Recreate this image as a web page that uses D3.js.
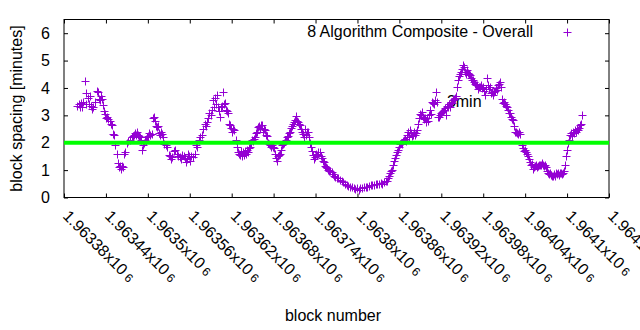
<!DOCTYPE html>
<html>
<head>
<meta charset="utf-8">
<script src="https://cdn.jsdelivr.net/npm/d3@7"></script>
<style>
  html, body { margin: 0; padding: 0; background: #fff; }
  svg { display: block; font-family: "Liberation Sans", Arial, sans-serif; }
</style>
</head>
<body>
<svg id="chart" width="640" height="330"></svg>
<script>
// ---- data ----
const seriesName = "8 Algorithm Composite - Overall";
const blockStart = 1963380;
const blockOffset = [19,21,23,24,26,27,30,31,32,34,36,37,39,40,42,44,47,49,50,52,53,54,56,57,59,60,62,63,66,67,69,70,72,73,76,77,79,80,82,83,84,86,87,90,92,94,97,99,100,102,103,104,106,107,109,110,112,113,114,116,117,119,120,122,123,126,127,129,130,132,133,135,136,137,139,140,142,143,146,147,150,152,153,155,157,159,162,163,166,167,169,172,173,175,176,177,179,180,182,185,187,189,190,193,195,197,199,202,203,205,206,208,210,212,213,215,216,218,219,220,222,223,225,226,228,229,230,232,233,235,236,238,239,240,242,243,246,248,249,250,252,253,255,256,258,259,260,262,263,265,266,268,269,270,272,273,275,276,278,279,281,282,283,285,286,288,289,291,292,293,295,296,298,299,301,302,303,305,306,308,309,311,312,313,315,316,318,319,321,322,323,325,326,328,329,331,332,333,335,336,338,339,341,342,343,345,346,348,349,351,352,353,355,356,358,359,361,362,364,366,368,369,371,372,374,375,376,378,379,381,384,385,386,388,391,392,395,398,399,402,405,406,409,412,415,416,419,422,424,426,429,432,434,437,439,441,444,447,448,451,454,455,458,461,462,464,465,467,468,469,471,472,474,475,477,478,479,481,482,484,485,487,488,489,491,492,494,495,497,498,499,501,502,504,505,507,508,510,511,512,514,515,517,518,520,521,522,524,525,527,528,530,531,532,534,535,537,538,540,541,542,544,545,547,548,550,551,552,554,555,557,558,560,561,562,564,565,567,568,570,571,572,574,575,577,578,580,581,582,584,585,587,588,590,591,592,594,595,597,598,600,601,603,604,605,607,608,610,611,613,614,615,617,618,620,621,623,624,625,627,628,630,631,633,634,635,637,638,640,641,643,644,645,647,648,650,651,653,656,657,658,660,661,663,664,666,667,668,670,671,673,674,676,677,678,680,681,683,684,686,687,688,690,691,693,694,696,697,698,700,701,703,704,706,707,708,710,711,713,714,716,717,718,720,721,723,724,726,727,728,730,731,733,734,736,737,738,740,741];
const spacing = [3.35,3.4,3.3,3.45,3.3,3.5,4.25,3.8,3.4,3.65,3.4,3.7,3.35,3.25,3.3,3.5,3.9,3.85,3.6,3.55,3.7,3.6,3.37,3.15,3.05,2.9,2.93,2.85,2.8,2.7,2.65,2.33,2.3,1.9,1.6,1.25,1.1,1.15,1.05,1.15,1.1,1.6,1.65,2.0,2.08,2.1,2.2,2.25,2.3,2.35,2.3,2.4,2.3,2.25,2.2,2.1,1.75,1.9,2.0,2.1,2.05,2.2,2.25,2.35,2.3,2.33,2.9,2.93,2.8,2.6,2.57,2.6,2.35,2.3,2.4,2.33,2.2,1.95,1.9,1.85,1.55,1.5,1.4,1.47,1.7,1.75,1.6,1.5,1.47,1.4,1.55,1.5,1.43,1.3,1.4,1.6,1.5,1.35,1.5,1.47,1.6,1.9,1.85,2.1,2.2,2.3,2.5,2.7,2.6,2.75,2.9,3.07,3.0,3.2,3.55,3.3,3.65,3.4,3.75,3.3,3.15,2.93,3.3,3.35,3.85,3.4,3.45,3.2,3.15,3.1,2.7,2.65,2.55,2.4,2.5,2.45,2.1,1.85,1.65,1.6,1.55,1.7,1.5,1.65,1.55,1.7,1.6,1.75,1.65,1.8,1.85,2.0,2.1,2.05,2.15,2.2,2.35,2.4,2.57,2.6,2.55,2.65,2.63,2.4,2.5,2.45,2.3,2.25,2.0,1.97,1.9,1.85,1.9,1.85,1.8,1.6,1.45,1.35,1.5,1.55,1.6,1.75,1.9,1.97,2.0,2.05,2.1,2.2,2.25,2.35,2.4,2.55,2.6,2.7,2.75,2.82,2.99,2.8,2.75,2.7,2.65,2.5,2.4,2.33,2.2,2.5,2.3,2.4,2.38,2.2,2.0,1.85,1.7,1.55,1.4,1.47,1.6,1.55,1.65,1.65,1.5,1.45,1.35,1.3,1.15,1.1,1.06,1.0,0.98,0.95,0.92,0.85,0.8,0.75,0.73,0.7,0.65,0.62,0.55,0.5,0.44,0.42,0.38,0.37,0.33,0.3,0.33,0.28,0.35,0.33,0.38,0.4,0.37,0.42,0.45,0.44,0.46,0.5,0.48,0.5,0.52,0.51,0.55,0.6,0.62,0.7,0.8,0.9,0.95,1.0,1.2,1.35,1.45,1.55,1.65,1.75,1.85,1.95,2.0,1.97,2.05,2.1,2.15,2.08,2.3,2.4,2.2,2.45,2.35,2.25,2.3,2.4,2.27,2.35,2.45,2.7,2.9,3.05,3.0,3.11,2.95,2.85,2.9,2.75,2.89,2.8,3.0,3.18,3.05,3.5,3.45,3.4,3.55,3.84,3.5,2.93,2.95,3.0,3.1,3.11,3.15,3.2,3.26,3.0,3.35,3.3,3.4,3.3,3.5,3.45,3.55,3.6,3.65,3.7,4.02,4.3,4.45,4.5,4.6,4.7,4.83,4.75,4.6,4.5,4.65,4.55,4.5,4.46,4.35,4.3,4.28,4.2,4.15,4.1,4.1,3.95,4.05,4.02,4.1,4.0,4.02,3.9,3.75,3.95,4.35,4.1,3.95,4.02,3.8,3.85,3.73,3.85,3.9,4.0,3.91,4.1,4.15,4.2,4.05,3.6,3.44,3.5,3.4,3.35,3.3,3.2,3.1,3.07,2.95,2.85,2.82,2.6,2.4,2.38,2.35,2.33,2.38,2.33,1.9,1.79,1.7,1.75,1.65,1.6,1.5,1.4,1.3,1.2,1.24,1.05,1.1,1.15,1.2,1.1,1.15,1.2,1.17,1.2,1.25,1.2,1.15,1.17,1.1,0.95,0.9,0.85,0.88,0.82,0.8,0.78,0.85,0.8,0.9,0.85,0.88,0.82,0.88,0.9,0.85,0.88,0.95,1.2,1.5,1.75,2.0,2.1,2.3,2.35,2.25,2.4,2.35,2.45,2.4,2.5,2.45,2.55,2.63,2.7,3.0];
const targetSpacing = 2;
const xTickValues = [1963380,1963440,1963500,1963560,1963620,1963680,1963740,1963800,1963860,1963920,1963980,1964040,1964100,1964160];
const xTickMantissa = ["1.96338","1.96344","1.9635","1.96356","1.96362","1.96368","1.96374","1.9638","1.96386","1.96392","1.96398","1.96404","1.9641","1.96416"];
const yTickValues = [0,1,2,3,4,5,6];
const xTitle = "block number";
const yTitle = "block spacing [minutes]";
const noteText = "3min";
const noteBlock = 1963928;
const noteValue = 3.3;

// ---- layout ----
const svg = d3.select("#chart");
const L = 64, R = 609, T = 19.5, B = 197.5;
const x = d3.scaleLinear().domain([1963380, 1964160]).range([L, R]);
const y = d3.scaleLinear().domain([0, 6.5]).range([B, T]);
const purple = "#9400d3";
const fontSize = 16;

svg.append("defs").append("clipPath").attr("id", "clip")
  .append("rect").attr("x", L).attr("y", T).attr("width", R - L).attr("height", B - T);

const points = blockOffset.map((o, i) => ({ b: blockStart + o, v: spacing[i] }));

// axes (ticks pointing inward, mirrored)
const gB = svg.append("g").attr("transform", `translate(0,${B})`)
  .call(d3.axisBottom(x).tickValues(xTickValues).tickSizeInner(-4).tickSizeOuter(0).tickFormat(""));
const gT = svg.append("g").attr("transform", `translate(0,${T})`)
  .call(d3.axisTop(x).tickValues(xTickValues).tickSizeInner(-4).tickSizeOuter(0).tickFormat(""));
const gL = svg.append("g").attr("transform", `translate(${L},0)`)
  .call(d3.axisLeft(y).tickValues(yTickValues).tickSizeInner(-4).tickSizeOuter(0)
    .tickPadding(14).tickFormat(d3.format("d")));
const gR = svg.append("g").attr("transform", `translate(${R},0)`)
  .call(d3.axisRight(y).tickValues(yTickValues).tickSizeInner(-4).tickSizeOuter(0).tickFormat(""));
[gB, gT, gL, gR].forEach(g => {
  g.select(".domain").remove();
  g.selectAll("line").attr("stroke", "#000");
});
gL.selectAll("text").attr("font-size", fontSize).attr("fill", "#000")
  .attr("font-family", "Liberation Sans, Arial, sans-serif");

// x tick labels rotated
const xl = svg.append("g");
xTickValues.forEach((t, i) => {
  const tx = x(t) - 2, ty = 217;
  const txt = xl.append("text")
    .attr("transform", `translate(${tx},${ty}) rotate(45)`)
    .attr("font-size", fontSize).attr("fill", "#000");
  txt.append("tspan").text(xTickMantissa[i] + "x10");
  txt.append("tspan").attr("font-size", 12).text(" 6");
});

// border
svg.append("rect").attr("x", L).attr("y", T).attr("width", R - L).attr("height", B - T)
  .attr("fill", "none").attr("stroke", "#000").attr("stroke-width", 1);

// note label (drawn beneath the points)
svg.append("text").attr("x", x(noteBlock)).attr("y", y(noteValue))
  .attr("font-size", fontSize).attr("fill", "#000").text(noteText);

// points
const plot = svg.append("g").attr("clip-path", "url(#clip)");
plot.selectAll("path.pt").data(points).enter().append("path")
  .attr("class", "pt")
  .attr("transform", d => `translate(${Math.round(x(d.b)) + 0.5},${Math.round(y(d.v)) + 0.5})`)
  .attr("d", "M-4,0H4M0,-4V4")
  .attr("stroke", purple).attr("stroke-width", 1).attr("fill", "none");

// target line
plot.append("line")
  .attr("x1", x(1963380)).attr("x2", x(1964160))
  .attr("y1", y(targetSpacing)).attr("y2", y(targetSpacing))
  .attr("stroke", "#00ff00").attr("stroke-width", 4);

// legend
svg.append("text").attr("x", 533).attr("y", 37).attr("text-anchor", "end")
  .attr("font-size", fontSize).attr("fill", "#000").text(seriesName);
svg.append("path").attr("transform", "translate(567.5,32.5)")
  .attr("d", "M-4,0H4M0,-4V4").attr("stroke", purple).attr("stroke-width", 1);

// titles
svg.append("text").attr("x", 333).attr("y", 321).attr("text-anchor", "middle")
  .attr("font-size", fontSize).attr("fill", "#000").text(xTitle);
svg.append("text").attr("transform", `translate(22,${(T + B) / 2}) rotate(-90)`)
  .attr("text-anchor", "middle").attr("font-size", fontSize).attr("fill", "#000").text(yTitle);
</script>
</body>
</html>
